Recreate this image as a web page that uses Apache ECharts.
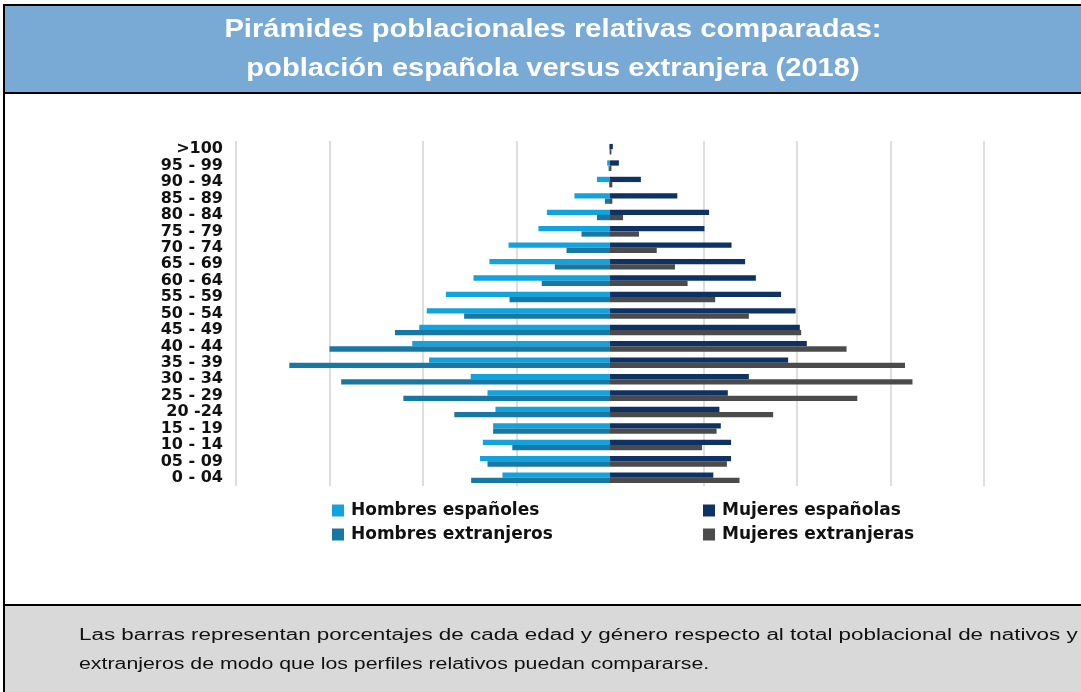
<html>
<head>
    <meta charset="utf-8">
    <script src="https://cdn.jsdelivr.net/npm/echarts@6/dist/echarts.min.js"></script>
    <style>
        body { margin: 0; background: #fff; }
        #main { width: 1081px; height: 692px; }
    </style>
</head>
<body>
    <div id="main"></div>
    <script>
        // grupos de edad (de abajo a arriba)
        var ages = ['0 - 04', '05 - 09', '10 - 14', '15 - 19', '20 -24', '25 - 29', '30 - 34',
            '35 - 39', '40 - 44', '45 - 49', '50 - 54', '55 - 59', '60 - 64', '65 - 69',
            '70 - 74', '75 - 79', '80 - 84', '85 - 89', '90 - 94', '95 - 99', '>100'];

        // porcentajes
        var hombresEsp = [2.30, 2.78, 2.72, 2.50, 2.45, 2.62, 2.98, 3.87, 4.23, 4.08, 3.92,
            3.51, 2.92, 2.58, 2.17, 1.53, 1.35, 0.76, 0.28, 0.06, 0.02];
        var mujeresEsp = [2.21, 2.59, 2.59, 2.37, 2.34, 2.52, 2.97, 3.81, 4.21, 4.06, 3.97,
            3.66, 3.12, 2.89, 2.60, 2.02, 2.12, 1.44, 0.66, 0.19, 0.06];
        var hombresExt = [2.97, 2.62, 2.09, 2.50, 3.33, 4.42, 5.75, 6.86, 6.00, 4.60, 3.12,
            2.15, 1.46, 1.18, 0.93, 0.61, 0.28, 0.11, 0.02, 0.03, 0.01];
        var mujeresExt = [2.77, 2.50, 1.97, 2.28, 3.49, 5.29, 6.47, 6.31, 5.06, 4.09, 2.97,
            2.25, 1.66, 1.39, 1.00, 0.62, 0.28, 0.05, 0.05, 0.03, 0.03];

        var titleLines = ['Pirámides poblacionales relativas comparadas:',
            'población española versus extranjera (2018)'];
        var noteLines = ['Las barras representan porcentajes de cada edad y género respecto al total poblacional de nativos y',
            'extranjeros de modo que los perfiles relativos puedan compararse.'];

        var colors = {
            hEsp: '#12a2dc',
            hExt: '#1877a3',
            mEsp: '#0d3263',
            mExt: '#4b4b4b'
        };

        var myChart = echarts.init(document.getElementById('main'));

        var legendText = { fontFamily: 'DejaVu Sans', fontWeight: 'bold', fontSize: 17, color: '#111', lineHeight: 14, padding: [0, 0, 0, 2] };

        var option = {
            animation: false,
            graphic: [
                { type: 'rect', z: -10, shape: { x: 4, y: 5, width: 1100, height: 88 }, style: { fill: '#79aad5', stroke: '#000', lineWidth: 2 } },
                { type: 'rect', z: -10, shape: { x: 4, y: 93, width: 1100, height: 512 }, style: { fill: '#fff', stroke: '#000', lineWidth: 2 } },
                { type: 'rect', z: -10, shape: { x: 4, y: 605, width: 1100, height: 100 }, style: { fill: '#d9d9d9', stroke: '#000', lineWidth: 2 } },
                { type: 'text', x: 553, y: 30, scaleX: 1.12, style: { text: titleLines[0], font: 'bold 26px "Liberation Sans"', fill: '#fff', textAlign: 'center', textVerticalAlign: 'middle' } },
                { type: 'text', x: 553, y: 69, scaleX: 1.12, style: { text: titleLines[1], font: 'bold 26px "Liberation Sans"', fill: '#fff', textAlign: 'center', textVerticalAlign: 'middle' } },
                { type: 'text', x: 79, y: 636, scaleX: 1.40, style: { text: noteLines[0], font: '16px "Liberation Sans"', fill: '#111', textAlign: 'left', textVerticalAlign: 'middle' } },
                { type: 'text', x: 79, y: 665, scaleX: 1.332, style: { text: noteLines[1], font: '16px "Liberation Sans"', fill: '#111', textAlign: 'left', textVerticalAlign: 'middle' } }
            ],
            legend: [
                {
                    orient: 'vertical', left: 327, top: 497, itemWidth: 12, itemHeight: 12, itemGap: 7,
                    icon: 'rect', textStyle: legendText,
                    data: ['Hombres españoles', 'Hombres extranjeros']
                },
                {
                    orient: 'vertical', left: 698, top: 497, itemWidth: 12, itemHeight: 12, itemGap: 7,
                    icon: 'rect', textStyle: legendText,
                    data: ['Mujeres españolas', 'Mujeres extranjeras']
                }
            ],
            grid: { left: 236, right: 97, top: 141, height: 345 },
            xAxis: {
                type: 'value',
                min: -8,
                max: 8,
                interval: 2,
                axisLabel: { show: false },
                axisLine: { show: false },
                axisTick: { show: false },
                splitLine: {
                    lineStyle: {
                        width: 2,
                        color: ['#dedede', '#dedede', '#dedede', '#dedede', 'rgba(0,0,0,0)', '#dedede', '#dedede', '#dedede', '#dedede']
                    }
                }
            },
            yAxis: {
                type: 'category',
                data: ages,
                axisLine: { show: false },
                axisTick: { show: false },
                axisLabel: {
                    interval: 0,
                    margin: 13,
                    fontFamily: 'DejaVu Sans',
                    fontWeight: 'bold',
                    fontSize: 16,
                    color: '#111',
                    padding: [0, 0, 6, 0]
                }
            },
            series: [
                {
                    name: 'Hombres españoles', type: 'bar', stack: 'esp', barWidth: 5.3, barGap: '0%',
                    itemStyle: { color: colors.hEsp },
                    data: hombresEsp.map(function (v) { return -v; })
                },
                {
                    name: 'Mujeres españolas', type: 'bar', stack: 'esp', barWidth: 5.3, barGap: '0%',
                    itemStyle: { color: colors.mEsp },
                    data: mujeresEsp
                },
                {
                    name: 'Hombres extranjeros', type: 'bar', stack: 'ext', barWidth: 5.3, barGap: '0%',
                    itemStyle: { color: colors.hExt },
                    data: hombresExt.map(function (v) { return -v; })
                },
                {
                    name: 'Mujeres extranjeras', type: 'bar', stack: 'ext', barWidth: 5.3, barGap: '0%',
                    itemStyle: { color: colors.mExt },
                    data: mujeresExt
                }
            ]
        };

        myChart.setOption(option);
    </script>
</body>
</html>
